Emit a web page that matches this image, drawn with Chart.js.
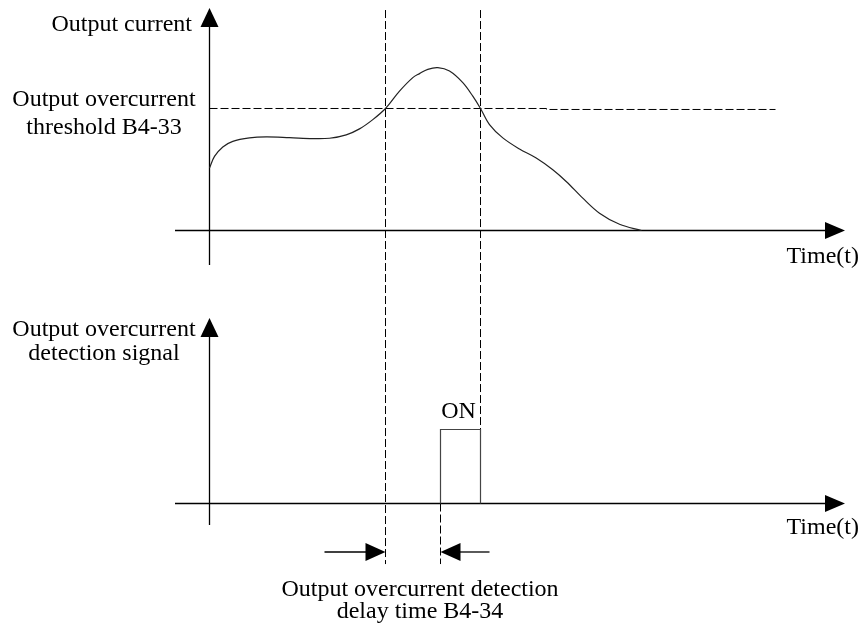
<!DOCTYPE html>
<html>
<head>
<meta charset="utf-8">
<title>Output overcurrent detection</title>
<script src="https://cdn.jsdelivr.net/npm/chart.js@4/dist/chart.umd.min.js"></script>
<style>
  html, body { margin: 0; padding: 0; background: #ffffff; }
  #wrap { position: relative; width: 861px; height: 626px; }
  canvas { display: block; }
</style>
</head>
<body>
<div id="wrap"><canvas id="chart" width="861" height="626"></canvas></div>
<script>
// Output current over time (threshold = 100)
const curT = [0, 0.5, 1.33, 2.33, 4.0, 5.67, 8.0, 10.33, 12.0, 13.67, 15.0, 16.33, 17.6,
              19.0, 20.33, 21.0, 21.83, 22.83, 24.0, 25.33, 26.33, 27.1, 28.0, 29.33,
              31.0, 32.67, 34.33, 35.67, 37.33, 39.0, 41.0, 43.2];
const curV = [51.2, 60.7, 68.5, 73.1, 75.9, 76.7, 76.1, 75.3, 75.6, 78.4, 83.3, 90.9, 100,
              114.2, 125.3, 128.6, 132.1, 133.5, 130.7, 121.2, 110.1, 100, 86.8, 75.9,
              66.8, 59.4, 49.8, 40.2, 26.5, 14.2, 5.1, 0];

// Overcurrent threshold B4-33
const thrT = [0, 33.7, 33.7, 56.6];
const thrV = [100, 100, 99.2, 99.2];

// Detection signal (0 = off, 1 = ON)
const sigT = [23.1, 23.1, 27.1, 27.1];
const sigV = [0, 1, 1, 0];

// Event times: threshold crossed upward, signal ON, threshold crossed downward
const eventT = [17.6, 23.1, 27.1];

// Axis ranges
const timeRange = [-3.45, 63.55];
const curRange = [-324.18, 188.93];
const sigRange = [-1.655, 6.804];

// Texts
const yLabelTop = ['Output current'];
const thrLabel = ['Output overcurrent', 'threshold B4-33'];
const yLabelBottom = ['Output overcurrent', 'detection signal'];
const xLabel = 'Time(t)';
const onLabel = 'ON';
const delayLabel = ['Output overcurrent detection', 'delay time B4-34'];

const FONT = '24px "Liberation Serif", "Times New Roman", serif';

function pts(xs, ys) { return xs.map((x, i) => ({ x: x, y: ys[i] })); }

function arrowHead(ctx, tipX, tipY, dx, dy, len, half) {
  // dx, dy: unit direction of travel
  const bx = tipX - dx * len, by = tipY - dy * len;
  ctx.beginPath();
  ctx.moveTo(tipX, tipY);
  ctx.lineTo(bx - dy * half, by + dx * half);
  ctx.lineTo(bx + dy * half, by - dx * half);
  ctx.closePath();
  ctx.fill();
}

function line(ctx, x1, y1, x2, y2, dash) {
  ctx.save();
  ctx.setLineDash(dash || []);
  ctx.beginPath();
  ctx.moveTo(x1, y1);
  ctx.lineTo(x2, y2);
  ctx.stroke();
  ctx.restore();
}

const diagram = {
  id: 'diagram',
  beforeDatasetsDraw(chart) {
    const ctx = chart.ctx;
    const x = chart.scales.x, yc = chart.scales.yCur, ys = chart.scales.ySig;
    const left = chart.chartArea.left, right = chart.chartArea.right;
    const x0 = x.getPixelForValue(0);
    ctx.save();
    ctx.strokeStyle = '#000';
    ctx.fillStyle = '#000';
    ctx.lineWidth = 1.3;

    // top axes
    const yTop0 = yc.getPixelForValue(0);
    line(ctx, left, yTop0, right - 18, yTop0);
    arrowHead(ctx, right, yTop0, 1, 0, 20, 8.5);
    const yAxTop = yc.getPixelForValue(182.4), yAxBot = yc.getPixelForValue(-28.3);
    line(ctx, x0, yAxBot, x0, yAxTop + 18);
    arrowHead(ctx, x0, yAxTop, 0, -1, 19, 9);

    // bottom axes
    const yBot0 = ys.getPixelForValue(0);
    line(ctx, left, yBot0, right - 18, yBot0);
    arrowHead(ctx, right, yBot0, 1, 0, 20, 8.5);
    const yAx2Top = ys.getPixelForValue(2.507), yAx2Bot = ys.getPixelForValue(-0.29);
    line(ctx, x0, yAx2Bot, x0, yAx2Top + 18);
    arrowHead(ctx, x0, yAx2Top, 0, -1, 19, 9);

    // event guide lines
    ctx.lineWidth = 1;
    const dash = [8, 3];
    const gTop = yc.getPixelForValue(180.7);
    const gBot = ys.getPixelForValue(-0.818);
    const xUp = x.getPixelForValue(eventT[0]);
    const xOn = x.getPixelForValue(eventT[1]);
    const xDown = x.getPixelForValue(eventT[2]);
    line(ctx, xUp, gTop, xUp, gBot, dash);
    line(ctx, xDown, gTop, xDown, ys.getPixelForValue(sigV[1]), dash);
    line(ctx, xOn, yBot0, xOn, gBot, dash);

    // delay arrows
    const yArr = ys.getPixelForValue(-0.655);
    ctx.lineWidth = 1.3;
    line(ctx, x.getPixelForValue(11.5), yArr, xUp - 18, yArr);
    arrowHead(ctx, xUp, yArr, 1, 0, 20, 9);
    line(ctx, x.getPixelForValue(28.0), yArr, xOn + 18, yArr);
    arrowHead(ctx, xOn, yArr, -1, 0, 20, 9);
    ctx.restore();
  },
  afterDraw(chart) {
    const ctx = chart.ctx;
    const x = chart.scales.x, ys = chart.scales.ySig;
    ctx.save();
    ctx.fillStyle = '#000';
    ctx.font = FONT;
    ctx.textBaseline = 'middle';

    ctx.textAlign = 'right';
    ctx.fillText(yLabelTop[0], 192, 25);

    ctx.textAlign = 'center';
    ctx.fillText(thrLabel[0], 104, 100);
    ctx.fillText(thrLabel[1], 104, 128);
    ctx.fillText(yLabelBottom[0], 104, 330);
    ctx.fillText(yLabelBottom[1], 104, 354);

    ctx.textAlign = 'right';
    ctx.fillText(xLabel, 859, 257);
    ctx.fillText(xLabel, 859, 528);

    ctx.textAlign = 'center';
    const onX = x.getPixelForValue((sigT[1] + sigT[2]) / 2);
    ctx.fillText(onLabel, onX - 2, ys.getPixelForValue(1) - 18);

    ctx.fillText(delayLabel[0], 420, 590);
    ctx.fillText(delayLabel[1], 420, 612);
    ctx.restore();
  }
};

new Chart(document.getElementById('chart'), {
  type: 'line',
  data: {
    datasets: [
      {
        label: 'Output current',
        data: pts(curT, curV),
        yAxisID: 'yCur',
        borderColor: '#222',
        borderWidth: 1.2,
        pointRadius: 0,
        tension: 0.35,
        fill: false
      },
      {
        label: 'Output overcurrent threshold B4-33',
        data: pts(thrT, thrV),
        yAxisID: 'yCur',
        borderColor: '#000',
        borderWidth: 1,
        borderDash: [8, 3],
        pointRadius: 0,
        tension: 0,
        fill: false
      },
      {
        label: 'Output overcurrent detection signal',
        data: pts(sigT, sigV),
        yAxisID: 'ySig',
        borderColor: '#444',
        borderWidth: 1.2,
        pointRadius: 0,
        tension: 0,
        fill: false
      }
    ]
  },
  options: {
    responsive: false,
    animation: false,
    devicePixelRatio: 1,
    layout: { padding: { left: 175, right: 16, top: 0, bottom: 0 } },
    plugins: { legend: { display: false }, tooltip: { enabled: false }, title: { display: false } },
    scales: {
      x: { type: 'linear', min: timeRange[0], max: timeRange[1], display: false },
      yCur: { type: 'linear', position: 'left', min: curRange[0], max: curRange[1], display: false },
      ySig: { type: 'linear', position: 'left', min: sigRange[0], max: sigRange[1], display: false }
    }
  },
  plugins: [diagram]
});
</script>
</body>
</html>
